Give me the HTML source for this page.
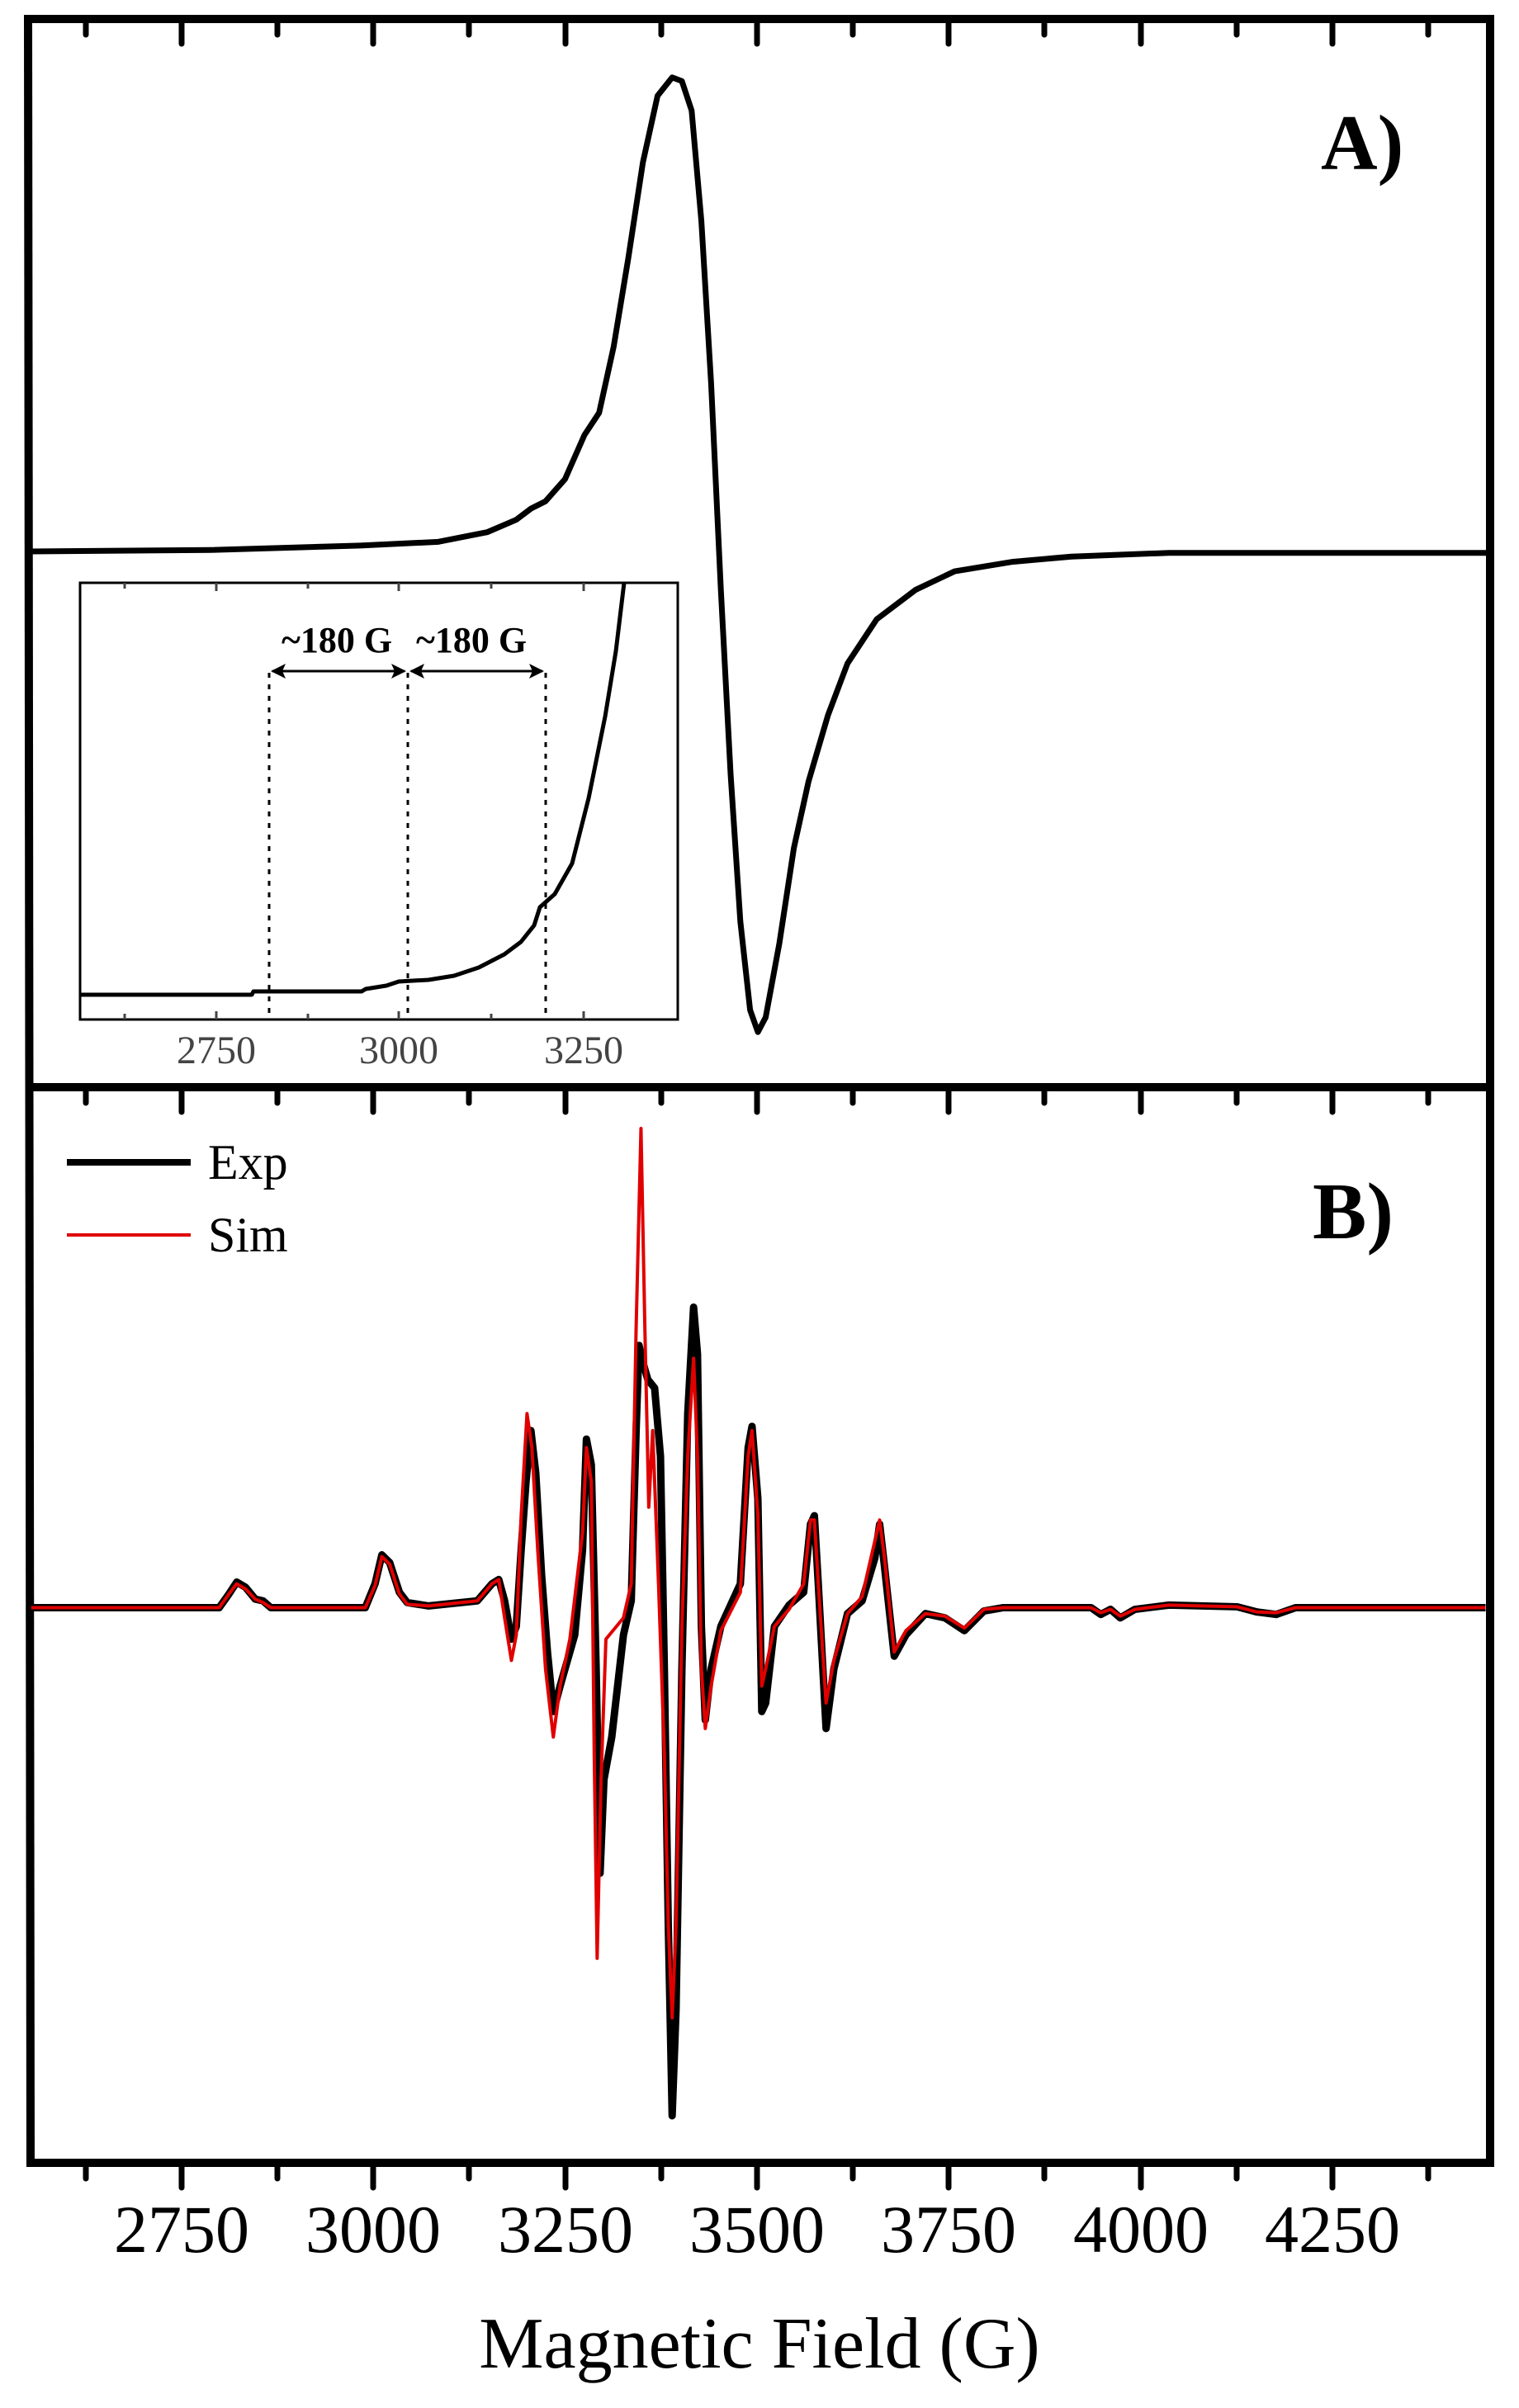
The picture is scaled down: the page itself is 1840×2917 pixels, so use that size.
<!DOCTYPE html>
<html><head><meta charset="utf-8"><style>
html,body{margin:0;padding:0;background:#fff;}
svg{display:block;}
text{font-family:"Liberation Serif",serif;}
</style></head><body>
<svg width="1840" height="2917" viewBox="0 0 1840 2917" xmlns="http://www.w3.org/2000/svg">
<defs><clipPath id="cp"><rect x="37" y="23" width="1768" height="2597"/></clipPath></defs>
<rect width="1840" height="2917" fill="#fff"/>
<!-- Panel A -->
<g clip-path="url(#cp)">
<g transform="matrix(1.18 0 0 0.893 0 0)">
<polyline fill="none" stroke="#000" stroke-width="7" vector-effect="non-scaling-stroke" stroke-linejoin="round" points="30,748 220,746 370,740 450,735 500,722 530,705 545,690 560,680 580,650 600,590 615,560 630,470 645,350 660,220 675,130 690,105 700,110 710,150 720,300 730,520 740,800 750,1050 760,1250 770,1370 778,1400 786,1380 800,1280 815,1150 830,1060 850,970 870,900 900,840 940,800 980,775 1040,762 1100,755 1200,750 1560,750"/>
</g>
</g>
<!-- frames -->
<g stroke="#000" stroke-width="10" fill="none">
<line x1="32" y1="23" x2="1805" y2="23"/>
<line x1="32" y1="1317" x2="1805" y2="1317"/>
<line x1="32" y1="2620" x2="1805" y2="2620"/>
<line x1="34" y1="18" x2="37" y2="2625"/>
<line x1="1805" y1="18" x2="1805" y2="2625"/>
</g>
<!-- ticks -->
<g stroke="#000" stroke-width="7" stroke-linecap="round">
<g id="tk">
<line x1="104" y1="23" x2="104" y2="42"/>
<line x1="220" y1="23" x2="220" y2="53"/>
<line x1="336" y1="23" x2="336" y2="42"/>
<line x1="452" y1="23" x2="452" y2="53"/>
<line x1="568" y1="23" x2="568" y2="42"/>
<line x1="685" y1="23" x2="685" y2="53"/>
<line x1="801" y1="23" x2="801" y2="42"/>
<line x1="917" y1="23" x2="917" y2="53"/>
<line x1="1033" y1="23" x2="1033" y2="42"/>
<line x1="1149" y1="23" x2="1149" y2="53"/>
<line x1="1265" y1="23" x2="1265" y2="42"/>
<line x1="1382" y1="23" x2="1382" y2="53"/>
<line x1="1498" y1="23" x2="1498" y2="42"/>
<line x1="1614" y1="23" x2="1614" y2="53"/>
<line x1="1730" y1="23" x2="1730" y2="42"/>
</g>
<use href="#tk" transform="translate(0,1294)"/>
<use href="#tk" transform="translate(0,2597)"/>
</g>
<text x="1600" y="205" font-size="95" font-weight="bold">A)</text>
<!-- inset -->
<rect x="97" y="706" width="724" height="529" fill="#fff" stroke="#000" stroke-width="3"/>
<g stroke="#444" stroke-width="3">
<line x1="151" y1="706" x2="151" y2="713"/><line x1="262" y1="706" x2="262" y2="716"/><line x1="373" y1="706" x2="373" y2="713"/><line x1="483" y1="706" x2="483" y2="716"/><line x1="595" y1="706" x2="595" y2="713"/><line x1="707" y1="706" x2="707" y2="716"/>
<line x1="151" y1="1235" x2="151" y2="1228"/><line x1="262" y1="1235" x2="262" y2="1225"/><line x1="373" y1="1235" x2="373" y2="1228"/><line x1="483" y1="1235" x2="483" y2="1225"/><line x1="595" y1="1235" x2="595" y2="1228"/><line x1="707" y1="1235" x2="707" y2="1225"/>
</g>
<g font-size="48" fill="#444" text-anchor="middle">
<text x="262" y="1288">2750</text><text x="483" y="1288">3000</text><text x="707" y="1288">3250</text>
</g>
<polyline fill="none" stroke="#000" stroke-width="5" stroke-linejoin="round" points="98,1205 305,1205 307,1201 438,1201 443,1198 468,1194 483,1189 519,1187 550,1182 580,1172 611,1156 631,1141 647,1121 654,1099 672,1083 693,1046 713,967 733,868 746,789 756,706"/>
<g stroke="#000" stroke-width="3" stroke-dasharray="6,8">
<line x1="326" y1="815" x2="326" y2="1235"/><line x1="494" y1="815" x2="494" y2="1235"/><line x1="661" y1="815" x2="661" y2="1235"/>
</g>
<g stroke="#000" stroke-width="3"><line x1="330" y1="813" x2="490" y2="813"/><line x1="498" y1="813" x2="657" y2="813"/></g>
<g fill="#000">
<polygon points="328,813 346,804 342,813 346,822"/><polygon points="492,813 474,804 478,813 474,822"/>
<polygon points="496,813 514,804 510,813 514,822"/><polygon points="659,813 641,804 645,813 641,822"/>
</g>
<g font-size="44" font-weight="bold" text-anchor="middle">
<text x="408" y="790">~180 G</text><text x="571" y="790">~180 G</text>
</g>
<!-- Panel B -->
<g transform="matrix(1.18 0 0 1.031 0 1300)" fill="none" stroke-linejoin="round">
<polyline stroke="#000" stroke-width="9" vector-effect="non-scaling-stroke" points="32,628 225,628 235,612 243,598 252,604 262,618 270,620 278,628 375,628 385,600 392,566 400,575 410,610 418,622 440,626 490,620 505,600 512,595 518,620 525,665 530,650 535,560 540,480 545,420 550,470 556,590 562,680 568,750 575,720 590,660 598,560 602,430 607,460 612,700 616,940 620,830 628,780 640,660 648,620 653,420 656,320 660,340 665,360 672,370 678,450 682,700 686,1000 690,1225 694,1100 700,700 706,400 712,275 716,330 720,650 724,760 730,700 740,650 760,600 768,440 772,415 778,500 782,750 786,740 795,650 810,625 825,610 832,530 836,520 840,600 848,770 856,700 870,635 885,620 898,570 903,530 908,580 918,685 930,660 950,635 970,640 990,655 1010,632 1030,628 1120,628 1130,636 1140,630 1150,640 1165,630 1200,625 1270,627 1290,633 1310,636 1330,628 1525,628"/>
<polyline stroke="#e00000" stroke-width="4" vector-effect="non-scaling-stroke" points="32,628 225,628 235,612 243,600 252,606 262,618 270,622 278,628 375,628 385,602 392,568 400,577 410,612 418,624 440,626 490,620 505,600 512,595 518,640 525,690 530,660 535,520 541,400 546,440 552,560 560,700 568,780 575,720 585,665 598,540 602,440 607,480 610,800 613,1040 617,830 622,665 640,640 648,600 653,300 658,65 662,300 666,510 670,420 676,600 682,800 686,1000 690,1110 694,1000 700,650 706,450 712,335 716,450 720,700 724,770 730,720 740,655 760,610 768,450 772,420 778,520 782,720 786,700 795,650 810,630 825,600 832,525 836,525 840,600 848,740 856,690 870,635 885,615 898,550 903,525 908,570 918,680 930,655 950,635 970,638 990,652 1010,630 1030,628 1120,628 1130,634 1140,630 1150,638 1165,630 1200,625 1270,627 1290,633 1310,634 1330,628 1525,628"/>
</g>
<line x1="81" y1="1408" x2="231" y2="1408" stroke="#000" stroke-width="8"/>
<line x1="81" y1="1496" x2="231" y2="1496" stroke="#e00000" stroke-width="4"/>
<text x="252" y="1428" font-size="60">Exp</text>
<text x="252" y="1516" font-size="60">Sim</text>
<text x="1590" y="1500" font-size="98" font-weight="bold">B)</text>
<g font-size="82" text-anchor="middle">
<text x="220" y="2728">2750</text><text x="452" y="2728">3000</text><text x="685" y="2728">3250</text><text x="917" y="2728">3500</text><text x="1149" y="2728">3750</text><text x="1382" y="2728">4000</text><text x="1614" y="2728">4250</text>
</g>
<text x="920" y="2868" font-size="88" text-anchor="middle">Magnetic Field (G)</text>
</svg>
</body></html>
